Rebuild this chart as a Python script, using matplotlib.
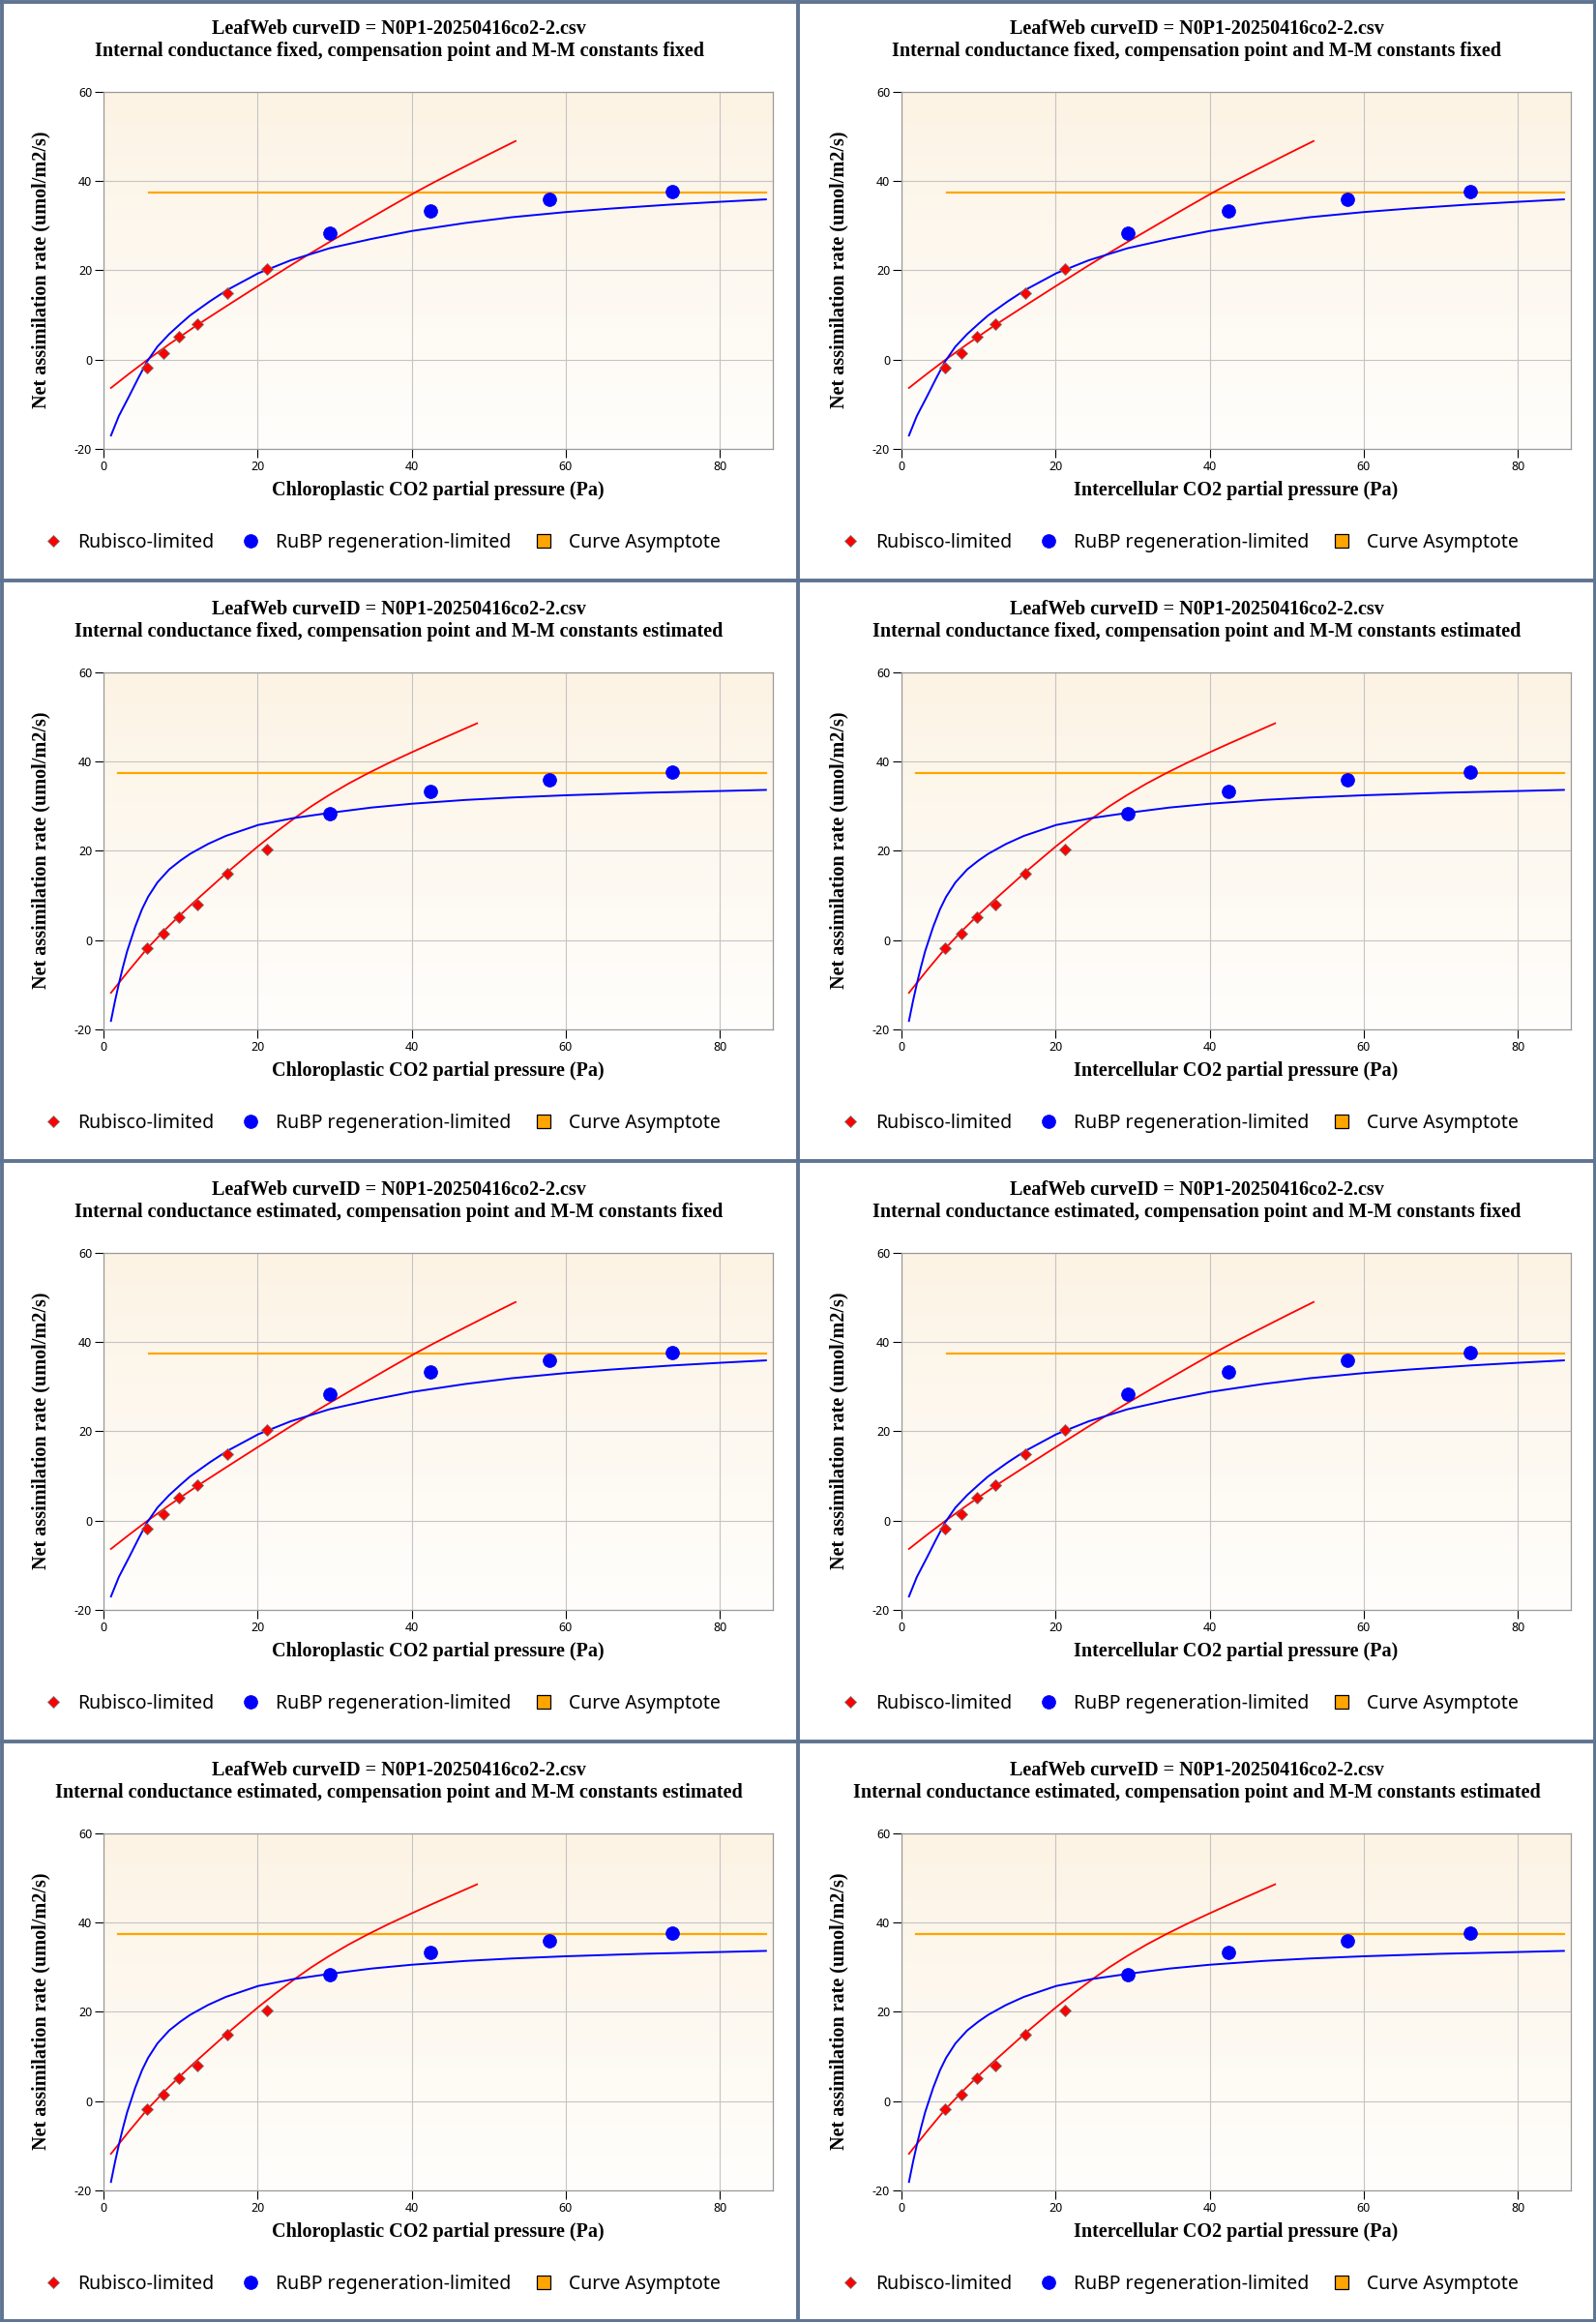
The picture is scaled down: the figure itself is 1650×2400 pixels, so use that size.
import matplotlib
matplotlib.use("Agg")
import matplotlib.pyplot as plt
import numpy as np
from matplotlib.lines import Line2D

plt.rcParams['axes.unicode_minus'] = False

# ---------------- data ----------------
title_line1 = "LeafWeb curveID = N0P1-20250416co2-2.csv"
row_subtitles = [
    "Internal conductance fixed, compensation point and M-M constants fixed",
    "Internal conductance fixed, compensation point and M-M constants estimated",
    "Internal conductance estimated, compensation point and M-M constants fixed",
    "Internal conductance estimated, compensation point and M-M constants estimated",
]
col_xlabels = ["Chloroplastic CO2 partial pressure (Pa)",
               "Intercellular CO2 partial pressure (Pa)"]
ylabel = "Net assimilation rate (umol/m2/s)"
legend_labels = ["Rubisco-limited", "RuBP regeneration-limited", "Curve Asymptote"]

x_ticks = [0, 20, 40, 60, 80]
y_ticks = [-20, 0, 20, 40, 60]

# observed points
rubisco_x = [5.67, 7.82, 9.83, 12.14, 16.09, 21.22]
rubisco_y = [-1.87, 1.51, 5.19, 7.93, 14.92, 20.32]
rubp_x = [29.33, 42.39, 57.95, 73.85]
rubp_y = [28.25, 33.3, 35.9, 37.55]

asymptote_y = 37.35

# fit set A: compensation point and M-M constants fixed
A_asym_x = [5.92, 86.0]
A_rub_curve_x = [0.97, 3.3, 5.67, 8.5, 12.14, 16.0, 20.0, 24.0, 26.6, 29.33, 34.0, 37.0, 40.46,
                 43.0, 46.0, 50.0, 53.5]
A_rub_curve_y = [-6.35, -3.2, -0.1, 3.4, 7.7, 12.0, 16.4, 20.75, 23.5, 26.3, 31.0, 34.0, 37.4,
                 39.75, 42.4, 45.9, 48.9]
A_rubp_curve_x = [0.97, 2.0, 3.28, 4.5, 5.67, 7.0, 8.53, 10.0, 11.26, 13.78, 16.09, 20.08, 24.29,
                  29.33, 34.8, 40.0, 46.97, 53.0, 60.0, 66.0, 73.8, 80.0, 86.0]
A_rubp_curve_y = [-17.0, -12.6, -8.36, -4.2, -0.4, 2.9, 5.7, 8.0, 9.9, 13.0, 15.6, 19.3, 22.2,
                  24.9, 27.0, 28.76, 30.56, 31.85, 33.0, 33.8, 34.7, 35.3, 35.84]

# fit set B: compensation point and M-M constants estimated
B_asym_x = [1.89, 86.0]
B_rub_curve_x = [0.97, 3.3, 5.67, 7.82, 9.83, 12.14, 16.09, 20.0, 22.5, 24.9, 27.0, 29.33, 31.8,
                 34.37, 37.0, 40.0, 42.5, 45.0, 48.5]
B_rub_curve_y = [-11.8, -6.8, -1.9, 2.0, 5.4, 9.1, 15.2, 20.9, 24.3, 27.4, 29.95, 32.5, 35.0,
                 37.35, 39.6, 42.0, 43.95, 45.85, 48.5]
B_rubp_curve_x = [0.97, 1.5, 2.02, 2.5, 3.07, 4.12, 5.0, 5.8, 7.0, 8.53, 10.0, 11.26, 13.57, 15.88,
                  20.08, 24.7, 29.33, 34.8, 40.0, 46.97, 53.0, 60.0, 70.0, 80.0, 86.0]
B_rubp_curve_y = [-18.1, -13.6, -9.6, -6.2, -2.5, 3.0, 6.9, 9.7, 12.9, 15.8, 17.8, 19.3, 21.5, 23.3,
                  25.75, 27.3, 28.45, 29.65, 30.5, 31.35, 31.9, 32.4, 32.95, 33.35, 33.6]

row_fitset = ['A', 'B', 'A', 'B']
fits = {
    'A': (A_asym_x, A_rub_curve_x, A_rub_curve_y, A_rubp_curve_x, A_rubp_curve_y),
    'B': (B_asym_x, B_rub_curve_x, B_rub_curve_y, B_rubp_curve_x, B_rubp_curve_y),
}

# ---------------- layout ----------------
W, H = 1650, 2400
PW, PH = 825, 600
fig = plt.figure(figsize=(W / 100, H / 100), dpi=100)
fig.patch.set_facecolor('white')

serif = ['Liberation Serif', 'DejaVu Serif']
sans = ['Noto Sans', 'DejaVu Sans']
BORDER = '#5e7491'

ax_left, ax_right, ax_top, ax_bot = 107, 799, 94.5, 464

gradient = np.linspace(0, 1, 256).reshape(-1, 1)
top_c = np.array([252, 243, 228]) / 255.0
bot_c = np.array([255, 254, 252]) / 255.0
grad_img = top_c[None, None, :] * (1 - gradient[:, :, None]) + bot_c[None, None, :] * gradient[:, :, None]

def fx(px):
    return px / W

def fy(py):
    return 1 - py / H

for r in range(4):
    for c in range(2):
        ox, oy = c * PW, r * PH
        ax = fig.add_axes([fx(ox + ax_left), fy(oy + ax_bot),
                           (ax_right - ax_left) / W, (ax_bot - ax_top) / H])
        ax.imshow(grad_img, extent=[0, 1, 0, 1], transform=ax.transAxes,
                  aspect='auto', zorder=0)
        ax.set_xlim(0, 86.9)
        ax.set_ylim(-20, 60)
        ax.set_xticks(x_ticks)
        ax.set_yticks(y_ticks)
        ax.grid(True, color='#c4c4c4', lw=0.8, zorder=1)
        for s in ax.spines.values():
            s.set_color('#9a9a9a')
            s.set_linewidth(0.9)
        ax.tick_params(direction='out', length=6.5, width=0.8, color='black',
                       labelsize=9, pad=2)
        for lab in ax.get_xticklabels() + ax.get_yticklabels():
            lab.set_family(sans)

        asym_x, rcx, rcy, bcx, bcy = fits[row_fitset[r]]
        ax.plot(asym_x, [asymptote_y, asymptote_y], color='#ffa500', lw=1.6, zorder=3)
        ax.plot(rcx, rcy, color='#ff0000', lw=1.3, zorder=4, solid_joinstyle='round')
        ax.plot(bcx, bcy, color='#0000ff', lw=1.4, zorder=4, solid_joinstyle='round')
        ax.plot(rubisco_x, rubisco_y, ls='none', marker='D', ms=5.8,
                mfc='#ff0000', mec='#777777', mew=0.6, zorder=5)
        ax.plot(rubp_x, rubp_y, ls='none', marker='o', ms=10,
                mfc='#0000ff', mec='#0000ee', mew=0.5, zorder=5)

        ax.set_xlabel(col_xlabels[c], family=serif, fontweight='bold', fontsize=14.5)
        ax.set_ylabel(ylabel, family=serif, fontweight='bold', fontsize=14.5)
        ax.xaxis.set_label_coords(0.5, (ax_bot - 507) / (ax_bot - ax_top), transform=ax.transAxes)
        ax.xaxis.label.set_va('center')
        ax.yaxis.set_label_coords((42 - ax_left) / (ax_right - ax_left), 0.5, transform=ax.transAxes)
        ax.yaxis.label.set_va('center')

        fig.text(fx(ox + PW / 2), fy(oy + 30), title_line1, ha='center', va='center',
                 family=serif, fontweight='bold', fontsize=14.5)
        fig.text(fx(ox + PW / 2), fy(oy + 53), row_subtitles[r], ha='center', va='center',
                 family=serif, fontweight='bold', fontsize=14.5)

        handles = [
            Line2D([], [], ls='none', marker='D', ms=5.8, mfc='#ff0000', mec='#777777', mew=0.6),
            Line2D([], [], ls='none', marker='o', ms=10, mfc='#0000ff', mec='#0000ee', mew=0.5),
            Line2D([], [], ls='none', marker='s', ms=9.5, mfc='#ffa500', mec='black', mew=0.9),
        ]
        marker_centers = [54.5, 259, 562]
        fs = 14
        hl_px = fs * 100 / 72
        for h, lab, mc in zip(handles, legend_labels, marker_centers):
            fig.legend(handles=[h], labels=[lab], loc='center left',
                       bbox_to_anchor=(fx(ox + mc - hl_px / 2), fy(oy + 561)),
                       frameon=False, handlelength=1.0, handletextpad=0.84,
                       borderpad=0, borderaxespad=0,
                       prop={'family': sans, 'size': fs})

# panel borders
for xp in [1.5, 825, 1648.5]:
    fig.add_artist(Line2D([fx(xp), fx(xp)], [0, 1], color=BORDER, lw=2.8))
for yp in [1.5, 600, 1200, 1800, 2398.5]:
    fig.add_artist(Line2D([0, 1], [fy(yp), fy(yp)], color=BORDER, lw=2.8))

fig.savefig('out.png', dpi=100, facecolor='white')
